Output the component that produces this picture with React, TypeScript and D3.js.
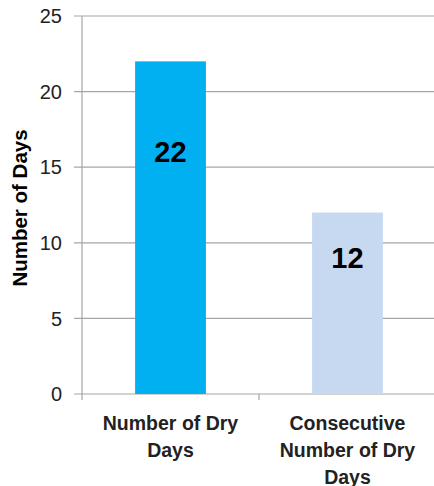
import React from "react";
import * as d3 from "d3";

const WIDTH = 434;
const HEIGHT = 486;

const categories = ["Number of Dry Days", "Consecutive Number of Dry Days"];
const categoryLines = [["Number of Dry", "Days"], ["Consecutive", "Number of Dry", "Days"]];
const values = [22, 12];
const barColors = ["#00B0F0", "#C6D9F1"];
const yTicks = [0, 5, 10, 15, 20, 25];

const FONT = "'Liberation Sans', Arial, sans-serif";

export default function App() {
  const margin = { top: 16, right: -2, bottom: 92, left: 82 };

  const x = d3
    .scaleBand<string>()
    .domain(categories)
    .range([margin.left, WIDTH - margin.right])
    .paddingInner(0)
    .paddingOuter(0);

  const y = d3
    .scaleLinear()
    .domain([0, 25])
    .range([HEIGHT - margin.bottom, margin.top]);

  const barWidth = x.bandwidth() * 0.4;
  const y0 = y(0);

  return (
    <svg
      width={WIDTH}
      height={HEIGHT}
      style={{ position: "absolute", left: 0, top: 0, background: "#fff" }}
    >
      {/* gridlines */}
      <g>
        {yTicks.map((t) => (
          <g key={t}>
            <line
              x1={margin.left - 8}
              x2={WIDTH}
              y1={y(t)}
              y2={y(t)}
              stroke="#A6A6A6"
              strokeWidth={1.2}
            />
            <text
              x={62}
              y={y(t)}
              dy="0.36em"
              textAnchor="end"
              fontFamily={FONT}
              fontSize={20}
              fill="#222"
            >
              {t}
            </text>
          </g>
        ))}
      </g>

      {/* axis line */}
      <line
        x1={margin.left}
        x2={margin.left}
        y1={y(25)}
        y2={y0 + 6}
        stroke="#A6A6A6"
        strokeWidth={1.2}
      />
      {categories.slice(1).map((c) => (
        <line
          key={c}
          x1={x(c)!}
          x2={x(c)!}
          y1={y0}
          y2={y0 + 6}
          stroke="#A6A6A6"
          strokeWidth={1.2}
        />
      ))}

      {/* bars */}
      {categories.map((c, i) => {
        const cx = x(c)! + x.bandwidth() / 2;
        return (
          <g key={c}>
            <rect
              x={cx - barWidth / 2}
              y={y(values[i])}
              width={barWidth}
              height={y0 - y(values[i])}
              fill={barColors[i]}
            />
            <text
              x={cx}
              y={y(values[i] * 0.7 + 0.65)}
              dy="0.36em"
              textAnchor="middle"
              fontFamily={FONT}
              fontWeight="bold"
              fontSize={29}
              fill="#000"
            >
              {values[i]}
            </text>
            {categoryLines[i].map((line, j) => (
              <text
                key={j}
                x={cx}
                y={423 + j * 27}
                dy="0.36em"
                textAnchor="middle"
                fontFamily={FONT}
                fontWeight="bold"
                fontSize={19.5}
                fill="#222"
              >
                {line}
              </text>
            ))}
          </g>
        );
      })}

      {/* y title */}
      <text
        transform={`translate(20, 208) rotate(-90)`}
        textAnchor="middle"
        dy="0.36em"
        fontFamily={FONT}
        fontWeight="bold"
        fontSize={20.5}
        fill="#000"
      >
        Number of Days
      </text>
    </svg>
  );
}
